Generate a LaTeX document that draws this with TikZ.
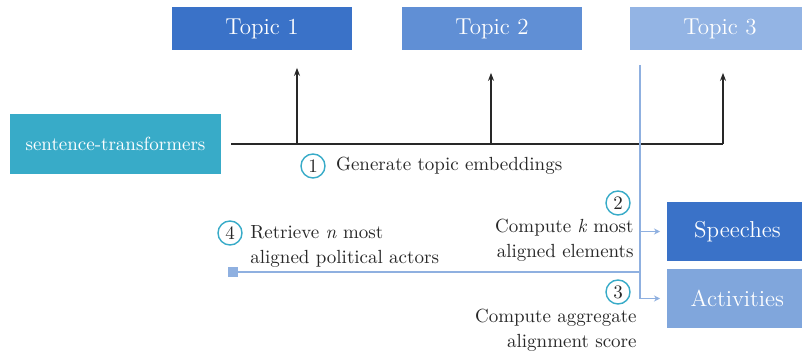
\documentclass[tikz,border=0pt]{standalone}
\usepackage{tikz}
\usetikzlibrary{arrows.meta, positioning, calc}
\definecolor{topicdark}{RGB}{58,114,200}
\definecolor{topicmid}{RGB}{96,143,213}
\definecolor{topiclight}{RGB}{147,180,228}
\definecolor{actsblue}{RGB}{128,166,220}
\definecolor{sbertteal}{RGB}{56,171,200}
\definecolor{alignblue}{RGB}{143,176,224}
\definecolor{inkgrey}{RGB}{40,40,40}
\tikzset{
  topicbox/.style={rectangle, text=white, minimum width=90pt,
    minimum height=21.5pt, font=\fontsize{11.5}{13}\selectfont},
  databox/.style={rectangle, text=white, minimum width=70pt,
    minimum height=29.5pt, font=\fontsize{11.5}{13}\selectfont},
  stepnum/.style={circle, draw=sbertteal, line width=0.7pt, inner sep=0pt,
    minimum size=12pt, font=\fontsize{9.5}{11}\selectfont, text=inkgrey},
  steptext/.style={font=\fontsize{9.5}{12.5}\selectfont, text=inkgrey,
    inner sep=0pt},
  embflow/.style={-{Stealth[length=4pt,width=3pt]}, draw=inkgrey,
    line width=0.6pt},
  embline/.style={draw=inkgrey, line width=0.6pt},
  alignflow/.style={-{Stealth[length=3pt,width=3pt]}, draw=alignblue,
    line width=0.7pt},
}

\begin{document}
\begin{tikzpicture}[x=0.5pt, y=-0.5pt]
\useasboundingbox[fill=white] (0,0) rectangle (802,356);

% topics
\node[topicbox, fill=topicdark] (topic1) at (262,29) {Topic 1};
\node[topicbox, fill=topicmid] (topic2) at (492,29) {Topic 2};
\node[topicbox, fill=topiclight] (topic3) at (720,29) {Topic 3};

% encoder
\node[rectangle, fill=sbertteal, text=white, minimum width=105.5pt,
  minimum height=30pt, font=\fontsize{9.5}{11}\selectfont]
  (sbert) at (115.5,144) {sentence-transformers};

% speech / activity data
\node[databox, fill=topicdark, anchor=west] (speech) at (667,231.5) {Speeches};
\node[databox, fill=actsblue, anchor=west] (acts) at (667,298.5) {Activities};

% embedding fan-out
\coordinate (split1) at (297,144);
\coordinate (split2) at (491,144);
\coordinate (split3) at (723,144);
\draw[embline] ([xshift=5pt]sbert.east) -- (split3);
\draw[embflow, shorten >=8.5pt] (split1) -- (split1 |- topic1.south);
\draw[embflow, shorten >=11pt] (split2) -- (split2 |- topic2.south);
\draw[embflow, shorten >=11pt] (split3) -- (split3 |- topic3.south);

\node[stepnum] (n1) at (313,166) {1};
\node[steptext, right=5pt of n1] (gen) {Generate topic embeddings};

% alignment trunk
\coordinate (trunktop) at (640,65);
\coordinate (forkspeech) at (640,231.5);
\coordinate (forkactor) at (640,272);
\node[rectangle, fill=alignblue, minimum size=5pt, inner sep=0pt]
  (actor) at (233,272) {};
\draw[alignflow, shorten >=3.5pt] (trunktop) |- (acts.west);
\draw[alignflow, shorten >=3.5pt] (forkspeech) -- (speech.west);
\draw[alignblue, line width=0.7pt] (forkactor) -- (actor.east);

\node[stepnum] (n2) at (618,203) {2};
\node[steptext, align=right, anchor=east] (topk) at (634,240)
  {Compute \emph{k} most\\aligned elements};
\node[stepnum] (n3) at (618,292) {3};
\node[steptext, align=right, anchor=east] (aggr) at (637,330)
  {Compute aggregate\\alignment score};
\node[stepnum] (n4) at (230,233) {4};
\node[steptext, align=left, anchor=west] (retr) at (250,246.5)
  {Retrieve \emph{n} most\\aligned political actors};
\end{tikzpicture}
\end{document}
